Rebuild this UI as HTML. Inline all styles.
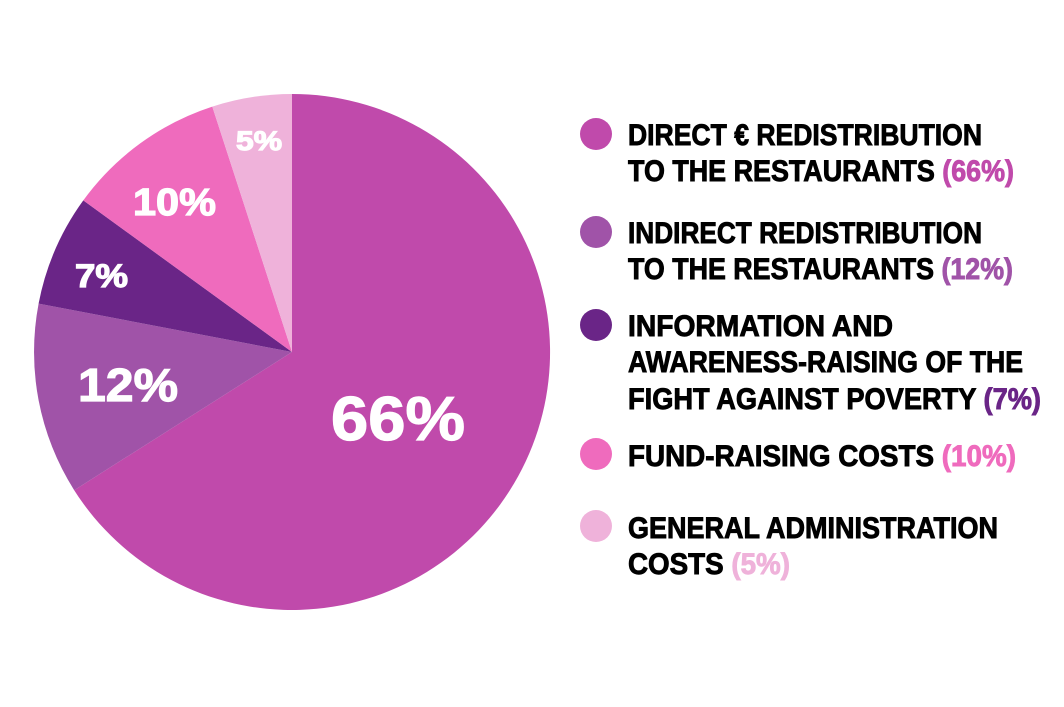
<!DOCTYPE html>
<html><head><meta charset="utf-8"><style>
html,body{margin:0;padding:0;background:#fff}
svg{display:block}
text{font-family:"Liberation Sans",sans-serif;font-weight:bold}
</style></head><body>
<svg width="1064" height="707" viewBox="0 0 1064 707" xmlns="http://www.w3.org/2000/svg">
<path d="M292,352 L292,94 A258,258 0 1 1 74.2,490.2 Z" fill="#c04aab"/>
<path d="M292,352 L74.2,490.2 A258,258 0 0 1 38.6,303.6 Z" fill="#a053a8"/>
<path d="M292,352 L38.6,303.6 A258,258 0 0 1 83.3,200.4 Z" fill="#6a2587"/>
<path d="M292,352 L83.3,200.4 A258,258 0 0 1 212.3,106.6 Z" fill="#ef6bbd"/>
<path d="M292,352 L212.3,106.6 A258,258 0 0 1 292,94 Z" fill="#efb2da"/>
<g fill="#fff" stroke="#fff" stroke-width="1.2">
<text x="331" y="440" font-size="62" textLength="134" lengthAdjust="spacingAndGlyphs">66%</text>
<text x="78" y="401" font-size="46" textLength="100" lengthAdjust="spacingAndGlyphs">12%</text>
<text x="75" y="287" font-size="32" textLength="53" lengthAdjust="spacingAndGlyphs">7%</text>
<text x="133" y="215" font-size="38" textLength="83" lengthAdjust="spacingAndGlyphs">10%</text>
<text x="236" y="150" font-size="27" textLength="46" lengthAdjust="spacingAndGlyphs">5%</text>
</g>
<circle cx="596" cy="134" r="16" fill="#c04aab"/>
<circle cx="596" cy="232" r="16" fill="#a053a8"/>
<circle cx="596" cy="325" r="16" fill="#6a2587"/>
<circle cx="596" cy="454" r="16" fill="#ef6bbd"/>
<circle cx="596" cy="526" r="16" fill="#efb2da"/>
<g font-size="30" fill="#000" stroke="#000" stroke-width="0.9">
<text x="628" y="145" textLength="354" lengthAdjust="spacingAndGlyphs">DIRECT € REDISTRIBUTION</text>
<text x="628" y="181" textLength="386" lengthAdjust="spacingAndGlyphs">TO THE RESTAURANTS <tspan fill="#c04aab" stroke="#c04aab">(66%)</tspan></text>
<text x="628" y="243" textLength="354" lengthAdjust="spacingAndGlyphs">INDIRECT REDISTRIBUTION</text>
<text x="628" y="279" textLength="385" lengthAdjust="spacingAndGlyphs">TO THE RESTAURANTS <tspan fill="#a053a8" stroke="#a053a8">(12%)</tspan></text>
<text x="628" y="336" textLength="265" lengthAdjust="spacingAndGlyphs">INFORMATION AND</text>
<text x="628" y="372" textLength="395" lengthAdjust="spacingAndGlyphs">AWARENESS-RAISING OF THE</text>
<text x="628" y="409" textLength="413" lengthAdjust="spacingAndGlyphs">FIGHT AGAINST POVERTY <tspan fill="#6a2587" stroke="#6a2587">(7%)</tspan></text>
<text x="628" y="466" textLength="388" lengthAdjust="spacingAndGlyphs">FUND-RAISING COSTS <tspan fill="#ef6bbd" stroke="#ef6bbd">(10%)</tspan></text>
<text x="628" y="538" textLength="370" lengthAdjust="spacingAndGlyphs">GENERAL ADMINISTRATION</text>
<text x="628" y="574" textLength="162" lengthAdjust="spacingAndGlyphs">COSTS <tspan fill="#efb2da" stroke="#efb2da">(5%)</tspan></text>
</g>
</svg>
</body></html>
